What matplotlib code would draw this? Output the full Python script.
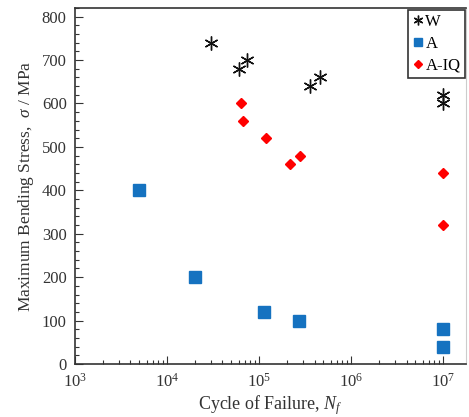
import matplotlib
matplotlib.use("Agg")
import matplotlib.pyplot as plt
from matplotlib.ticker import MultipleLocator, LogFormatterMathtext, LogLocator

plt.rcParams['font.family'] = ['Liberation Serif', 'DejaVu Serif']
plt.rcParams['mathtext.fontset'] = 'custom'
plt.rcParams['mathtext.rm'] = 'Liberation Serif'
plt.rcParams['mathtext.it'] = 'Liberation Serif:italic'

# --- data ---
w_cycles = [3.0e4, 6.1e4, 7.3e4, 3.6e5, 4.6e5, 1.0e7, 1.0e7]
w_stress = [740, 680, 700, 640, 660, 620, 600]

a_cycles = [5.0e3, 2.0e4, 1.12e5, 2.7e5, 1.0e7, 1.0e7]
a_stress = [400, 200, 120, 100, 80, 40]

aiq_cycles = [6.4e4, 6.7e4, 1.18e5, 2.15e5, 2.8e5, 1.0e7, 1.0e7]
aiq_stress = [600, 560, 520, 460, 480, 440, 320]

fig = plt.figure(figsize=(4.69, 4.17), dpi=100)
ax = fig.add_axes([0.160, 0.127, 0.834, 0.854])

ax.plot(w_cycles, w_stress, linestyle='none', marker=(6, 2, 0), markersize=10,
        markeredgewidth=1.0, color='#111111', label='W')
ax.plot(a_cycles, a_stress, linestyle='none', marker='s', markersize=8,
        color='#1572C0', label='A')
ax.plot(aiq_cycles, aiq_stress, linestyle='none', marker='D', markersize=5.5,
        color='#FF0000', label='A-IQ')

ax.set_xscale('log')
ax.set_xlim(1e3, 10**7.25)
ax.set_ylim(0, 820)
ax.yaxis.set_major_locator(MultipleLocator(100))
ax.yaxis.set_minor_locator(MultipleLocator(20))
ax.xaxis.set_major_locator(LogLocator(base=10, numticks=10))
ax.xaxis.set_minor_locator(LogLocator(base=10, subs=range(2, 10), numticks=20))
ax.xaxis.set_major_formatter(LogFormatterMathtext())

ax.tick_params(which='both', direction='in', top=False, right=False,
               labelsize=12, colors='#333333', pad=6)
ax.tick_params(which='major', length=6, width=0.8)
ax.tick_params(which='minor', length=3, width=0.8)

for side in ['left', 'bottom', 'top']:
    ax.spines[side].set_color('#333333')
    ax.spines[side].set_linewidth(1.2)
ax.spines['right'].set_color('#cccccc')

ax.set_xlabel('Cycle of Failure, $N_f$', fontsize=13, color='#333333', labelpad=2)
ax.set_ylabel(r'Maximum Bending Stress,  $\sigma$ / MPa', fontsize=12.5,
              color='#333333', labelpad=4)

leg = ax.legend(loc='upper right', fontsize=12, handletextpad=0.1,
                handlelength=0.7, borderpad=0.25, labelspacing=0.35,
                markerscale=0.7, fancybox=False, framealpha=1,
                borderaxespad=0.1)
leg.get_frame().set_edgecolor('#333333')
leg.get_frame().set_linewidth(1.2)

fig.savefig('out.png', dpi=100)
